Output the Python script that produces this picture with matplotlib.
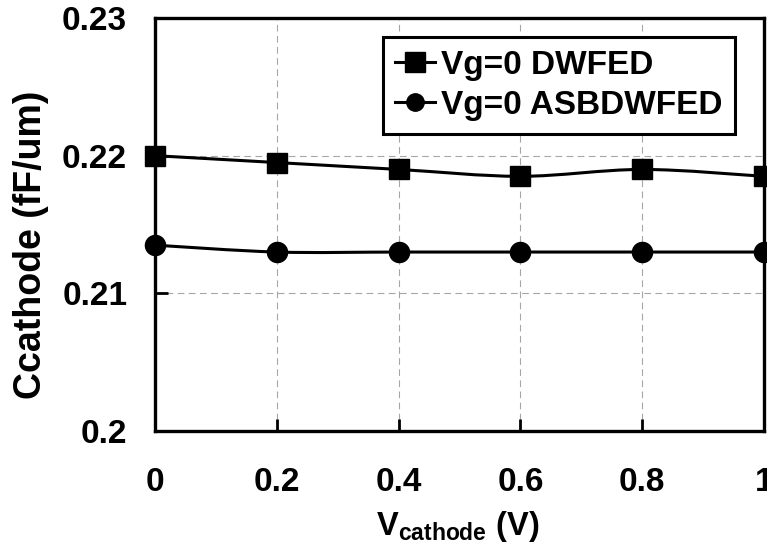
import numpy as np
import matplotlib
matplotlib.use("Agg")
import matplotlib.pyplot as plt
from matplotlib.path import Path
from matplotlib.patches import PathPatch
from matplotlib.lines import Line2D

plt.rcParams['font.family'] = ['Liberation Sans', 'DejaVu Sans']
plt.rcParams['font.weight'] = 'bold'
plt.rcParams['mathtext.fontset'] = 'custom'
plt.rcParams['mathtext.rm'] = 'Liberation Sans:bold'
plt.rcParams['mathtext.bf'] = 'Liberation Sans:bold'
plt.rcParams['mathtext.it'] = 'Liberation Sans:bold'

# Cathode voltage sweep (V)
v_cathode = [0.0, 0.2, 0.4, 0.6, 0.8, 1.0]
# Cathode capacitance (fF/um)
c_dwfed = [0.2200, 0.2195, 0.2190, 0.2185, 0.2190, 0.2185]
c_asbdwfed = [0.2135, 0.2130, 0.2130, 0.2130, 0.2130, 0.2130]

series_labels = ['Vg=0 DWFED', 'Vg=0 ASBDWFED']
x_ticks = [0, 0.2, 0.4, 0.6, 0.8, 1.0]
x_ticklabels = ['0', '0.2', '0.4', '0.6', '0.8', '1']
y_ticks = [0.20, 0.21, 0.22, 0.23]
y_ticklabels = ['0.2', '0.21', '0.22', '0.23']


def smooth_path(x, y):
    """Cubic Bezier path through the points (Catmull-Rom style smoothing)."""
    x = np.asarray(x, float)
    y = np.asarray(y, float)
    n = len(x)
    verts = [(x[0], y[0])]
    codes = [Path.MOVETO]
    for i in range(n - 1):
        i0 = max(i - 1, 0)
        i3 = min(i + 2, n - 1)
        c1 = (x[i] + (x[i + 1] - x[i0]) / 6.0, y[i] + (y[i + 1] - y[i0]) / 6.0)
        c2 = (x[i + 1] - (x[i3] - x[i]) / 6.0, y[i + 1] - (y[i3] - y[i]) / 6.0)
        verts += [c1, c2, (x[i + 1], y[i + 1])]
        codes += [Path.CURVE4] * 3
    return Path(verts, codes)


fig = plt.figure(figsize=(7.67, 5.52), dpi=100)
ax = fig.add_axes([155 / 767, 1 - 431 / 552, 609 / 767, 413 / 552])

lw = 2.2
ms = 14.5
for xs, ys, mk in [(v_cathode, c_dwfed, 's'), (v_cathode, c_asbdwfed, 'o')]:
    patch = PathPatch(smooth_path(xs, ys), facecolor='none', edgecolor='black',
                      lw=lw, zorder=3)
    ax.add_patch(patch)
    ax.plot(xs, ys, ls='none', marker=mk, ms=ms, color='black', zorder=4,
            clip_on=False)

ax.set_xlim(0, 1)
ax.set_ylim(0.20, 0.23)
ax.set_xticks(x_ticks)
ax.set_xticklabels(x_ticklabels)
ax.set_yticks(y_ticks)
ax.set_yticklabels(y_ticklabels)
ax.tick_params(direction='in', length=9, width=2, labelsize=24)
ax.tick_params(axis='x', pad=26)
ax.tick_params(axis='y', pad=20)
for lab in ax.get_xticklabels() + ax.get_yticklabels():
    lab.set_fontweight('bold')

ax.grid(True, color='#a6a6a6', lw=0.8, linestyle=(0, (6, 4)))
ax.set_axisbelow(True)
for sp in ax.spines.values():
    sp.set_linewidth(2.4)

handles = [Line2D([], [], color='black', lw=lw, marker='s', ms=ms),
           Line2D([], [], color='black', lw=lw, marker='o', ms=ms - 2)]
leg = ax.legend(handles, series_labels, loc='upper right',
                bbox_to_anchor=(0.953, 0.954), borderaxespad=0,
                prop={'size': 24, 'weight': 'bold'}, frameon=True,
                fancybox=False, framealpha=1, edgecolor='black',
                handlelength=1.2, handletextpad=0.18, labelspacing=0.28,
                borderpad=0.38)
leg.get_frame().set_linewidth(2.2)

fig.text(31 / 767, 1 - 245 / 552, 'Ccathode (fF/um)', rotation=90,
         ha='center', va='center', fontsize=27, fontweight='bold')
fig.text(458 / 767, 1 - 535 / 552, r'V$_{\mathrm{cathode}}$ (V)',
         ha='center', va='baseline', fontsize=23.5, fontweight='bold')

fig.savefig('out.png', dpi=100)
